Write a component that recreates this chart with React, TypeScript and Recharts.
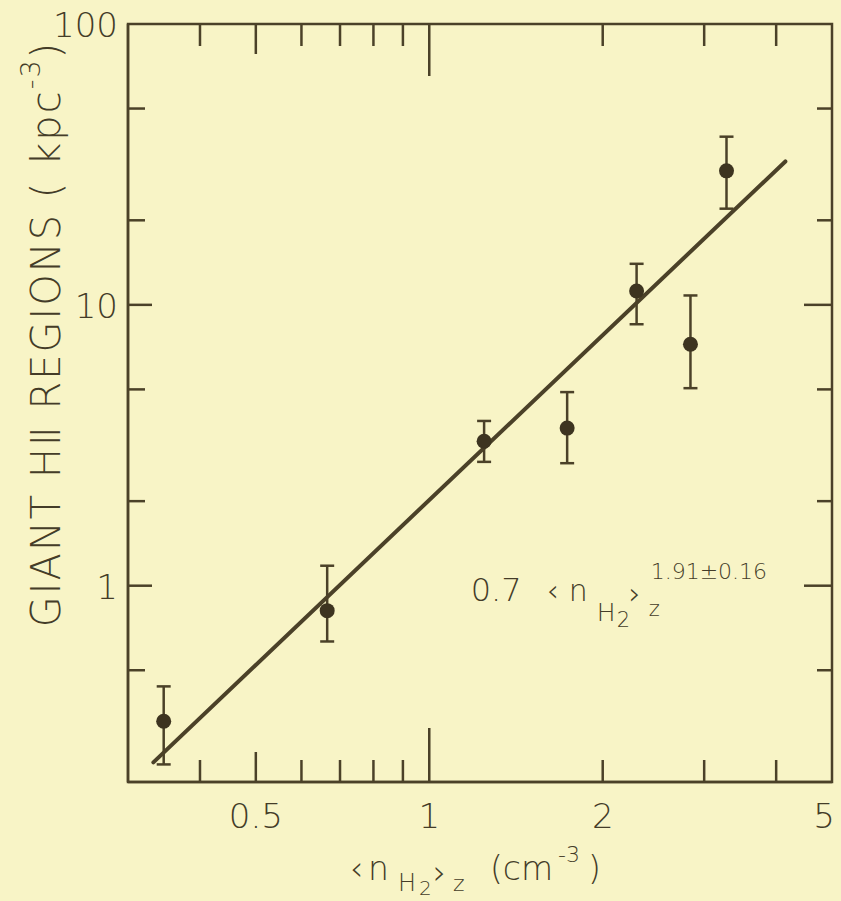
import React from "react";
import { ComposedChart, ErrorBar, Label, ReferenceArea, ReferenceDot, Scatter, XAxis, YAxis } from "recharts";

// measured points: <n_H2>_z (cm^-3) vs giant HII regions (kpc^-3)
const density = [0.346, 0.665, 1.245, 1.735, 2.29, 2.84, 3.28];
const regions = [0.329, 0.815, 3.27, 3.64, 11.2, 7.24, 30.0];
const regionsLow = [0.231, 0.633, 2.76, 2.73, 8.53, 5.05, 22.0];
const regionsHigh = [0.438, 1.178, 3.86, 4.89, 14.0, 10.8, 39.7];

// fitted power law, end points as drawn
const fitDensity = [0.332, 4.15];
const fitRegions = [0.235, 32.4];

const xTicks = [0.4, 0.5, 0.6, 0.7, 0.8, 0.9, 1, 2, 3, 4, 5];
const xLabelled = [0.5, 1, 2, 5];
const yTicks = [0.5, 1, 2, 5, 10, 20, 50, 100];
const yLabelled = [1, 10, 100];

const INK = "#4b4128";
const TEXT = "#443c28";
const BG = "#f8f4c6";
const FONT = "'DejaVu Sans', sans-serif";

const W = 841;
const H = 901;
const M = { top: 24, right: 9, bottom: 119, left: 128 };
const PLOT_W = W - M.left - M.right;
const PLOT_H = H - M.top - M.bottom;

const points = density.map((x, i) => ({
  x,
  y: regions[i],
  err: [regions[i] - regionsLow[i], regionsHigh[i] - regions[i]],
}));
const fit = fitDensity.map((x, i) => ({ x, y: fitRegions[i] }));

const xLen = (v: number, top: boolean) => {
  if (v === 5) return 0;
  if (v === 1) return top ? 52 : 54;
  if (v === 0.5) return 30;
  return 22;
};

const yLen = (v: number, right: boolean) => {
  if (v === 1 || v === 10) return right ? 28 : 24;
  return right ? 15 : 17;
};

// bottom ticks point inward; the matching top-edge tick is drawn here too
const BottomTick = (props: any) => {
  const { x, y, payload } = props;
  const v = payload.value;
  const top = y - PLOT_H;
  return (
    <g>
      {xLen(v, false) > 0 && <line x1={x} x2={x} y1={y} y2={y - xLen(v, false)} stroke={INK} strokeWidth={2.5} />}
      {xLen(v, true) > 0 && <line x1={x} x2={x} y1={top} y2={top + xLen(v, true)} stroke={INK} strokeWidth={2.5} />}
      {xLabelled.includes(v) && (
        <text x={v === 5 ? x - 8 : x} y={y + 46} textAnchor="middle" fill={TEXT} fontSize={34} fontFamily={FONT} fontWeight={200}>
          {String(v)}
        </text>
      )}
    </g>
  );
};

const LeftTick = (props: any) => {
  const { x, y, payload } = props;
  const v = payload.value;
  const right = x + PLOT_W;
  return (
    <g>
      {v !== 100 && <line x1={x} x2={x + yLen(v, false)} y1={y} y2={y} stroke={INK} strokeWidth={2.5} />}
      {v !== 100 && <line x1={right} x2={right - yLen(v, true)} y1={y} y2={y} stroke={INK} strokeWidth={2.5} />}
      {yLabelled.includes(v) && (
        <text x={x - 10} y={y + 13} textAnchor="end" fill={TEXT} fontSize={34} fontFamily={FONT} fontWeight={200}>
          {String(v)}
        </text>
      )}
    </g>
  );
};

const YTitle = (props: any) => {
  const { viewBox } = props;
  const cx = viewBox.x + 46;
  const cy = 334;
  return (
    <text
      x={cx}
      y={cy}
      transform={`rotate(-90 ${cx} ${cy})`}
      textAnchor="middle"
      dominantBaseline="central"
      fill={TEXT}
      fontSize={40}
      letterSpacing={2}
      fontFamily={FONT}
      fontWeight={200}
    >
      GIANT HⅡ REGIONS ( kpc
      <tspan fontSize={27} dy={-16}>-3</tspan>
      <tspan dy={16}>)</tspan>
    </text>
  );
};

const XTitle = (props: any) => {
  const { viewBox } = props;
  const x0 = viewBox.x;
  const p = { fill: TEXT, fontFamily: FONT, fontWeight: 200 };
  return (
    <g>
      <text x={x0 + 222} y={880} fontSize={33} {...p}>‹</text>
      <text x={x0 + 240} y={880} fontSize={33} {...p}>n</text>
      <text x={x0 + 270} y={891} fontSize={24} {...p}>H</text>
      <text x={x0 + 291} y={895} fontSize={20} {...p}>2</text>
      <text x={x0 + 305} y={884} fontSize={33} {...p}>›</text>
      <text x={x0 + 325} y={891} fontSize={22} {...p}>z</text>
      <text x={x0 + 362} y={880} fontSize={33} {...p}>(cm</text>
      <text x={x0 + 430} y={862} fontSize={22} {...p}>-3</text>
      <text x={x0 + 460} y={880} fontSize={33} {...p}>)</text>
    </g>
  );
};

const FitLabel = (props: any) => {
  const { cx, cy } = props;
  const p = { fill: TEXT, fontFamily: FONT, fontWeight: 200 };
  return (
    <g>
      <text x={cx} y={cy} fontSize={32} {...p}>0.7</text>
      <text x={cx + 76} y={cy} fontSize={30} {...p}>‹</text>
      <text x={cx + 98} y={cy} fontSize={30} {...p}>n</text>
      <text x={cx + 126} y={cy + 20} fontSize={25} {...p}>H</text>
      <text x={cx + 146} y={cy + 26} fontSize={21} {...p}>2</text>
      <text x={cx + 158} y={cy + 3} fontSize={30} {...p}>›</text>
      <text x={cx + 178} y={cy + 15} fontSize={21} {...p}>z</text>
      <text x={cx + 180} y={cy - 22} fontSize={22} {...p}>1.91±0.16</text>
    </g>
  );
};

export default function App() {
  return (
    <div style={{ position: "absolute", left: 0, top: 0, width: W, height: H, background: BG }}>
      <ComposedChart width={W} height={H} margin={{ top: M.top, right: M.right, bottom: 0, left: 0 }}>
        <XAxis
          dataKey="x"
          type="number"
          scale="log"
          domain={[0.3, 5]}
          allowDataOverflow
          ticks={xTicks}
          interval={0}
          tickSize={0}
          tickMargin={0}
          tick={<BottomTick />}
          axisLine={{ stroke: INK, strokeWidth: 2.5 }}
          height={M.bottom}
        >
          <Label content={<XTitle />} />
        </XAxis>
        <YAxis
          dataKey="y"
          type="number"
          scale="log"
          domain={[0.2, 100]}
          allowDataOverflow
          ticks={yTicks}
          interval={0}
          tickSize={0}
          tickMargin={0}
          tick={<LeftTick />}
          axisLine={{ stroke: INK, strokeWidth: 2.5 }}
          width={M.left}
        >
          <Label content={<YTitle />} />
        </YAxis>
        <ReferenceArea x1={0.3} x2={5} y1={0.2} y2={100} fill="none" stroke={INK} strokeWidth={2.5} />
        <Scatter
          data={fit}
          line={{ stroke: INK, strokeWidth: 4, strokeLinecap: "round" }}
          shape={() => <g />}
          isAnimationActive={false}
        />
        <Scatter
          data={points}
          fill="#3d3420"
          shape={(p: any) => <circle cx={p.cx} cy={p.cy} r={7.5} fill="#3d3420" />}
          isAnimationActive={false}
        >
          <ErrorBar dataKey="err" direction="y" width={7} stroke={INK} strokeWidth={2.5} />
        </Scatter>
        <ReferenceDot x={1.18} y={0.885} r={0} shape={(p: any) => <FitLabel {...p} />} />
      </ComposedChart>
    </div>
  );
}
